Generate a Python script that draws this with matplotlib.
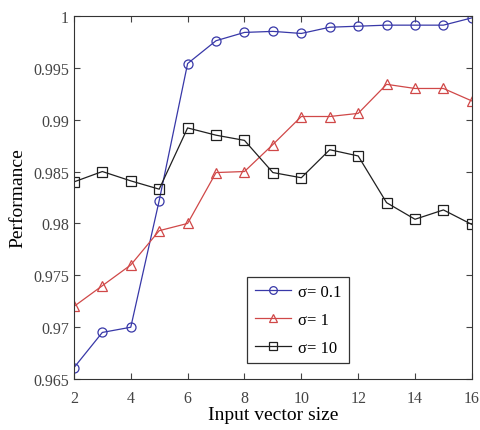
import matplotlib.pyplot as plt
import numpy as np

sizes = [2, 3, 4, 5, 6, 7, 8, 9, 10, 11, 12, 13, 14, 15, 16]
perf_s01 = [0.9661, 0.9695, 0.9700, 0.9822, 0.9954, 0.9976, 0.9984, 0.9985,
            0.9983, 0.9989, 0.9990, 0.9991, 0.9991, 0.9991, 0.9998]
perf_s1 = [0.9720, 0.9740, 0.9760, 0.9793, 0.9800, 0.9849, 0.9850, 0.9876,
           0.9903, 0.9903, 0.9906, 0.9934, 0.9930, 0.9930, 0.9918]
perf_s10 = [0.9840, 0.9850, 0.9841, 0.9833, 0.9892, 0.9885, 0.9880, 0.9849,
            0.9844, 0.9871, 0.9865, 0.9820, 0.9804, 0.9813, 0.9799]
labels = ['σ= 0.1', 'σ= 1', 'σ= 10']
xticks = [2, 4, 6, 8, 10, 12, 14, 16]
yticks = [0.965, 0.97, 0.975, 0.98, 0.985, 0.99, 0.995, 1]

plt.rcParams['font.family'] = ['Liberation Serif', 'DejaVu Serif']

fig = plt.figure(figsize=(4.8, 4.31), dpi=100)
ax = fig.add_axes([0.154, 0.118, 0.829, 0.843])

ax.plot(sizes, perf_s01, '-o', color='#3838a8', mfc='none', ms=6.5, lw=0.9, mew=0.9, label=labels[0])
ax.plot(sizes, perf_s1, '-^', color='#d04848', mfc='none', ms=6.5, lw=0.9, mew=0.9, label=labels[1])
ax.plot(sizes, perf_s10, '-s', color='#202020', mfc='none', ms=6.5, lw=0.9, mew=0.9, label=labels[2])

ax.set_xlim(2, 16)
ax.set_ylim(0.965, 1)
ax.set_xticks(xticks)
ax.set_yticks(yticks)
ax.set_yticklabels(['0.965', '0.97', '0.975', '0.98', '0.985', '0.99', '0.995', '1'])
ax.tick_params(direction='in', top=True, right=True, labelsize=11.5, colors='#444444', length=4)
ax.tick_params(axis='x', pad=8)
for sp in ax.spines.values():
    sp.set_color('#333333')

ax.set_xlabel('Input vector size', fontsize=14, labelpad=0)
ax.set_ylabel('Performance', fontsize=14, labelpad=5)

leg = ax.legend(loc='lower left', bbox_to_anchor=(0.435, 0.044), borderaxespad=0, fontsize=12,
                fancybox=False, framealpha=1, edgecolor='#333333', markerscale=0.85,
                handlelength=2.2, borderpad=0.45, labelspacing=0.7, handletextpad=0.4)
leg.get_frame().set_linewidth(0.9)

fig.savefig('out.png', dpi=100)
